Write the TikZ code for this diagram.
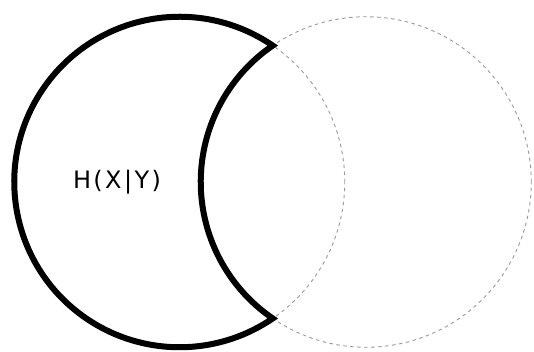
\documentclass[tikz,border=0pt]{standalone}
\usepackage{fontspec}
\setmainfont{DejaVu Sans}
\begin{document}
\begin{tikzpicture}[x=1pt,y=1pt,
  ghost/.style={draw=black!40,line width=0.9pt,dash pattern=on 3.5pt off 3.5pt},
  crescent/.style={draw=black,line width=6pt,line join=miter},
  lbl/.style={font=\fontsize{24}{28}\selectfont\addfontfeature{LetterSpace=10}, inner sep=0pt}]
\useasboundingbox (0,0) rectangle (534,351);
\coordinate (A) at (179.5,169);
\coordinate (B) at (366,169);
\draw[ghost] (A) circle (165.25);
\draw[ghost] (B) circle (165.25);
\draw[crescent] ([shift={(55.65:165.25)}]A) coordinate (cu)
  arc[start angle=55.65,end angle=304.35,radius=165.25] coordinate (cl)
  arc[start angle=235.65,end angle=124.35,radius=165.25] -- cycle;
\node[lbl] (h) at (117,169) {H(X|Y)};
\end{tikzpicture}
\end{document}
